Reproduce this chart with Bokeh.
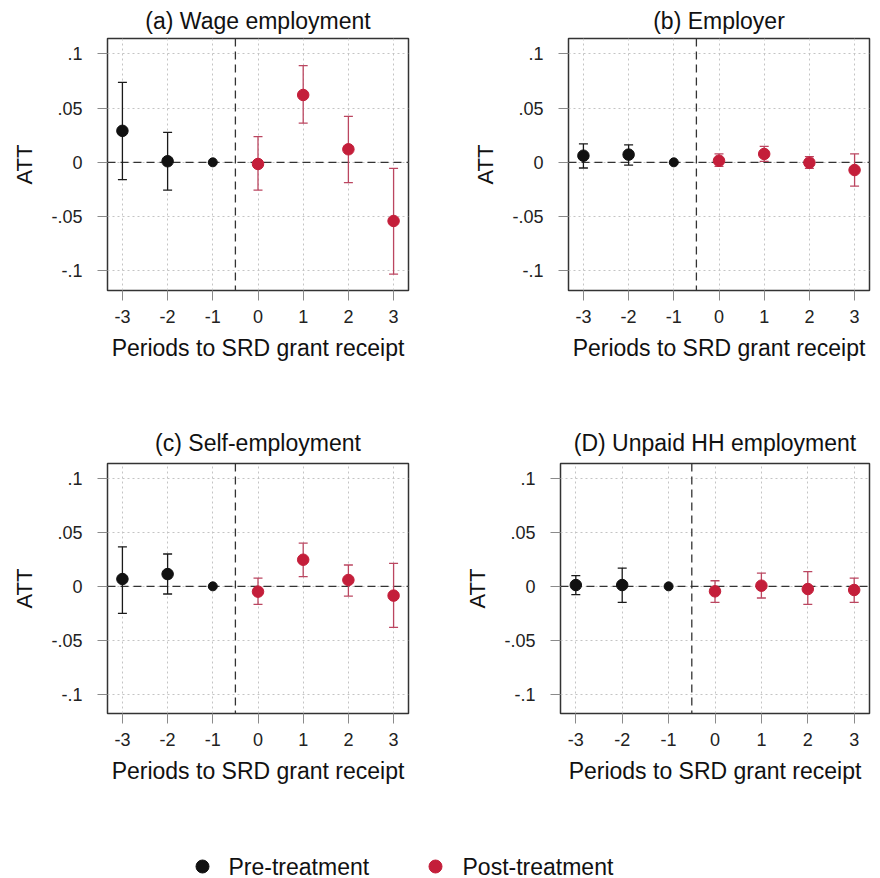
from bokeh.plotting import figure
from bokeh.models import (ColumnDataSource, Whisker, TeeHead, Span, FixedTicker,
                          CustomJSTickFormatter, Range1d)
from bokeh.layouts import column, row
from bokeh.embed import file_html
from bokeh.resources import INLINE
from bokeh.core.properties import value

# ---------------- data ----------------
periods = [-3, -2, -1, 0, 1, 2, 3]
titles = ["(a) Wage employment", "(b) Employer", "(c) Self-employment", "(D) Unpaid HH employment"]

wage_att = [0.029, 0.001, 0.0, -0.0015, 0.062, 0.012, -0.054]
wage_lo = [-0.016, -0.0255, None, -0.0255, 0.036, -0.0187, -0.103]
wage_hi = [0.0736, 0.0276, None, 0.0236, 0.089, 0.0423, -0.0055]

employer_att = [0.0061, 0.0071, 0.0, 0.0015, 0.0077, -0.0003, -0.0071]
employer_lo = [-0.0052, -0.0025, None, -0.0037, 0.0009, -0.0055, -0.022]
employer_hi = [0.0169, 0.016, None, 0.0077, 0.0147, 0.0052, 0.0077]

self_att = [0.0068, 0.0114, 0.0, -0.0049, 0.0247, 0.0059, -0.0086]
self_lo = [-0.025, -0.0071, None, -0.0167, 0.009, -0.009, -0.038]
self_hi = [0.0367, 0.030, None, 0.0077, 0.0401, 0.0198, 0.0213]

unpaid_att = [0.0012, 0.0012, 0.0, -0.0046, 0.0006, -0.0025, -0.0034]
unpaid_lo = [-0.0077, -0.0148, None, -0.0148, -0.0108, -0.0167, -0.0148]
unpaid_hi = [0.0099, 0.017, None, 0.0052, 0.0123, 0.0136, 0.0077]

y_ticks = [-0.1, -0.05, 0, 0.05, 0.1]
x_label = "Periods to SRD grant receipt"
y_label = "ATT"
legend_labels = ["Pre-treatment", "Post-treatment"]

# ---------------- style ----------------
FONT = "Liberation Sans"
PRE_COLOR = "#111111"
POST_COLOR = "#c41e3a"
POST_BAR = "#bb4660"
PRE_BAR = "#1a1a1a"
legend_colors = [PRE_COLOR, POST_COLOR]

yfmt = CustomJSTickFormatter(code="""
if (Math.abs(tick) < 1e-9) return "0";
var s = (Math.round(tick*100)/100).toString();
return s.replace("0.", ".");
""")
xfmt = CustomJSTickFormatter(code="return Math.round(tick).toString();")


def make_panel(title, att, lo, hi, b_left, f_width, b_right, b_top, f_height, b_bottom,
               t_standoff):
    p = figure(frame_width=f_width, frame_height=f_height,
               min_border_left=b_left, min_border_right=b_right,
               min_border_top=b_top, min_border_bottom=b_bottom,
               x_range=Range1d(-3.33, 3.33), y_range=Range1d(-0.118, 0.114),
               output_backend="svg", toolbar_location=None, title=title)
    p.title.align = "center"
    p.title.text_font = FONT
    p.title.text_font_size = "23px"
    p.title.text_font_style = "normal"
    p.title.text_color = "#111111"
    p.title.standoff = t_standoff

    p.outline_line_color = "#333333"
    p.outline_line_width = 1.5
    p.background_fill_color = "white"
    p.border_fill_color = "white"

    for ax in (p.xaxis[0], p.yaxis[0]):
        ax.axis_line_color = None
        ax.major_tick_out = 10
        ax.major_tick_in = 0
        ax.minor_tick_line_color = None
        ax.major_tick_line_color = "#8a8a8a"
        ax.major_label_text_font = FONT
        ax.major_label_text_font_size = "18px"
        ax.major_label_text_color = "#222222"
        ax.axis_label_text_font = FONT
        ax.axis_label_text_font_style = "normal"
        ax.axis_label_text_color = "#111111"

    p.xaxis.ticker = FixedTicker(ticks=periods)
    p.xaxis.formatter = xfmt
    p.xaxis.major_label_standoff = 9
    p.xaxis.axis_label = x_label
    p.xaxis.axis_label_text_font_size = "23px"
    p.xaxis.axis_label_standoff = 9

    p.yaxis.ticker = FixedTicker(ticks=y_ticks)
    p.yaxis.formatter = yfmt
    p.yaxis.major_label_standoff = 15
    p.yaxis.major_label_orientation = "horizontal"
    p.yaxis.axis_label = y_label
    p.yaxis.axis_label_text_font_size = "22px"
    p.yaxis.axis_label_standoff = 11

    p.xgrid.ticker = FixedTicker(ticks=periods)
    p.ygrid.ticker = FixedTicker(ticks=y_ticks)
    for g in (p.xgrid[0], p.ygrid[0]):
        g.grid_line_color = "#c4c4c4"
        g.grid_line_dash = "2 3"
        g.grid_line_width = 1

    p.add_layout(Span(location=0, dimension="width", line_color="#333333",
                      line_dash="8 5", line_width=1.3, level="underlay"))
    p.add_layout(Span(location=-0.5, dimension="height", line_color="#333333",
                      line_dash="8 5", line_width=1.3, level="underlay"))

    for pre, bar_col, pt_col in ((True, PRE_BAR, PRE_COLOR), (False, POST_BAR, POST_COLOR)):
        idx = [i for i, t in enumerate(periods) if (t < 0) == pre]
        ci = [i for i in idx if lo[i] is not None]
        src_ci = ColumnDataSource(dict(x=[periods[i] for i in ci],
                                       lower=[lo[i] for i in ci],
                                       upper=[hi[i] for i in ci]))
        w = Whisker(source=src_ci, base="x", lower="lower", upper="upper",
                    line_color=bar_col, line_width=1.3, level="underlay",
                    upper_head=TeeHead(size=9, line_color=bar_col, line_width=1.3),
                    lower_head=TeeHead(size=9, line_color=bar_col, line_width=1.3))
        p.add_layout(w)
        sizes = [9 if lo[i] is None else 11.5 for i in idx]
        src_pt = ColumnDataSource(dict(x=[periods[i] for i in idx],
                                       y=[att[i] for i in idx], s=sizes))
        p.scatter("x", "y", size="s", source=src_pt, fill_color=pt_col,
                  line_color=pt_col)
    return p


# row 1: height 38 + 252 + 130 = 420 ; row 2: 42 + 250 + 75 = 367
pa = make_panel(titles[0], wage_att, wage_lo, wage_hi, 107, 301, 32, 38, 252, 130, 9)
pb = make_panel(titles[1], employer_att, employer_lo, employer_hi, 128, 301, 11, 38, 252, 130, 9)
pc = make_panel(titles[2], self_att, self_lo, self_hi, 107, 301, 32, 42, 250, 75, 15)
pd = make_panel(titles[3], unpaid_att, unpaid_lo, unpaid_hi, 120, 309, 11, 42, 250, 75, 15)

# ---------------- legend strip ----------------
LW, LH = 880, 91
leg = figure(width=LW, height=LH, x_range=Range1d(0, LW), y_range=Range1d(0, LH),
             output_backend="svg", toolbar_location=None, min_border=0)
leg.axis.visible = False
leg.grid.visible = False
leg.outline_line_color = None
leg_src = ColumnDataSource(dict(mx=[202, 435], tx=[228, 462], y=[13, 13],
                                c=legend_colors, t=legend_labels))
leg.scatter("mx", "y", source=leg_src, size=13, fill_color="c", line_color="c")
leg.text("tx", "y", text="t", source=leg_src, text_font=value(FONT),
         text_font_size="23px", text_baseline="middle", text_color="#111111")

layout = column(row(pa, pb), row(pc, pd), leg)
open("out.html", "w").write(file_html(layout, INLINE))
